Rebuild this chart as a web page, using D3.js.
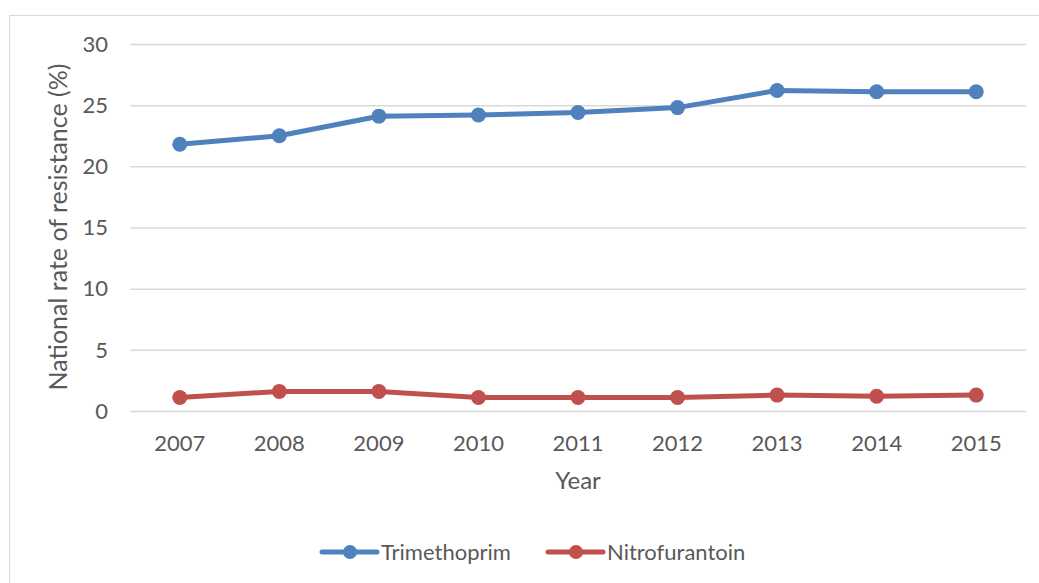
<!DOCTYPE html>
<html>
<head>
<meta charset="utf-8">
<script src="https://cdn.jsdelivr.net/npm/d3@7"></script>
<style>
  body { margin: 0; background: #fff; }
  text { font-family: Lato, "Open Sans", sans-serif; fill: #595959; }
</style>
</head>
<body>
<svg id="chart" width="1039" height="583"></svg>
<script>
// values
var years = ["2007", "2008", "2009", "2010", "2011", "2012", "2013", "2014", "2015"];
var trimethoprim = [21.8, 22.5, 24.1, 24.2, 24.4, 24.8, 26.2, 26.1, 26.1];
var nitrofurantoin = [1.1, 1.6, 1.6, 1.1, 1.1, 1.1, 1.3, 1.2, 1.3];
var yTicks = [0, 5, 10, 15, 20, 25, 30];
var seriesNames = ["Trimethoprim", "Nitrofurantoin"];
var seriesColors = ["#4F81BD", "#C0504D"];

var svg = d3.select("#chart");

// outer chart border
svg.append("rect")
  .attr("x", 9.5).attr("y", 15.5)
  .attr("width", 1040).attr("height", 580)
  .attr("fill", "none").attr("stroke", "#d9d9d9");

var x = d3.scaleBand().domain(years).range([130, 1026]);
var y = d3.scaleLinear().domain([0, 30]).range([411, 44]);

// gridlines
svg.selectAll(".grid").data(yTicks).enter().append("line")
  .attr("x1", 130).attr("x2", 1026)
  .attr("y1", function(d){ return y(d) + 0.5; })
  .attr("y2", function(d){ return y(d) + 0.5; })
  .attr("stroke", "#d9d9d9").attr("stroke-width", 1.5);

// y tick labels
svg.selectAll(".ylab").data(yTicks).enter().append("text")
  .attr("x", 108)
  .attr("y", function(d){ return y(d); })
  .attr("dy", "0.35em")
  .attr("text-anchor", "end")
  .style("font-size", "22px")
  .text(function(d){ return d; });

// x tick labels
svg.selectAll(".xlab").data(years).enter().append("text")
  .attr("x", function(d){ return x(d) + x.bandwidth() / 2; })
  .attr("y", 451)
  .attr("text-anchor", "middle")
  .style("font-size", "22px")
  .text(function(d){ return d; });

// axis titles
svg.append("text")
  .attr("x", 578).attr("y", 489)
  .attr("text-anchor", "middle")
  .style("font-size", "24px")
  .text("Year");

svg.append("text")
  .attr("transform", "translate(67,227) rotate(-90)")
  .attr("text-anchor", "middle")
  .style("font-size", "25px")
  .text("National rate of resistance (%)");

var line = d3.line()
  .x(function(d, i){ return x(years[i]) + x.bandwidth() / 2; })
  .y(function(d){ return y(d); });

[trimethoprim, nitrofurantoin].forEach(function(vals, s){
  svg.append("path")
    .datum(vals)
    .attr("d", line)
    .attr("fill", "none")
    .attr("stroke", seriesColors[s])
    .attr("stroke-width", 5)
    .attr("stroke-linejoin", "round")
    .attr("stroke-linecap", "round");
  svg.selectAll(".pt" + s).data(vals).enter().append("circle")
    .attr("cx", function(d, i){ return x(years[i]) + x.bandwidth() / 2; })
    .attr("cy", function(d){ return y(d); })
    .attr("r", 7.5)
    .attr("fill", seriesColors[s]);
});

// legend
var legX = [322, 548];
seriesNames.forEach(function(name, s){
  var g = svg.append("g").attr("transform", "translate(" + legX[s] + ",552)");
  g.append("line")
    .attr("x1", 0).attr("x2", 55)
    .attr("stroke", seriesColors[s])
    .attr("stroke-width", 5)
    .attr("stroke-linecap", "round");
  g.append("circle").attr("cx", 28).attr("r", 7).attr("fill", seriesColors[s]);
  g.append("text")
    .attr("x", 59).attr("dy", "0.35em")
    .style("font-size", "22px")
    .text(name);
});
</script>
</body>
</html>
